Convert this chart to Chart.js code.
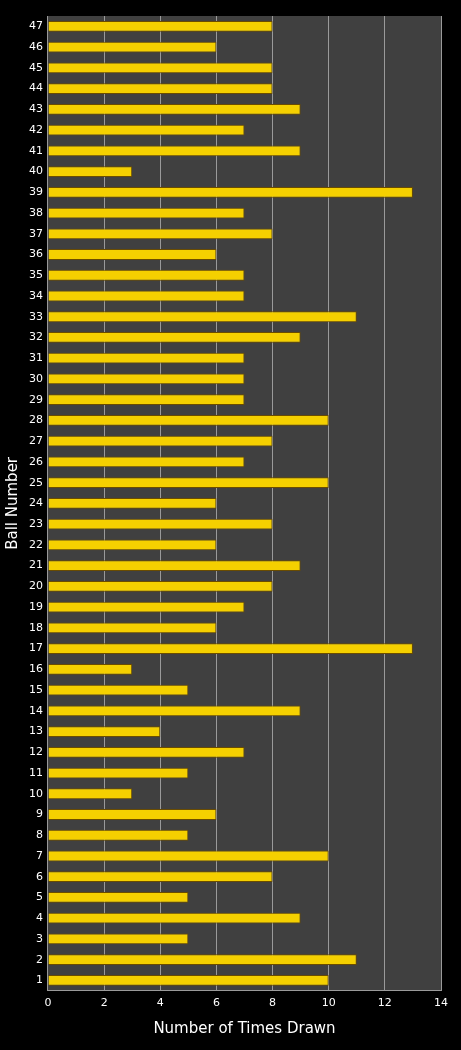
<!DOCTYPE html><html><head><style>html,body{margin:0;background:#000}#w{width:461px;height:1050px}</style>
<script src="https://cdn.jsdelivr.net/npm/chart.js@4"></script></head><body><div id="w"><canvas id="c"></canvas></div><script>
const balls=[];for(let i=47;i>=1;i--)balls.push(String(i));
const counts=[8,6,8,8,9,7,9,3,13,7,8,6,7,7,11,9,7,7,7,10,8,7,10,6,8,6,9,8,7,6,13,3,5,9,4,7,5,3,6,5,10,8,5,9,5,11,10];
function grad(ctx){const el=ctx.element;const c=ctx.chart.ctx;
 if(!el||el.y===undefined||isNaN(el.y))return '#f5d000';
 const h=el.height||10;const g=c.createLinearGradient(0,el.y-h/2,0,el.y+h/2);
 g.addColorStop(0,'#8a6a00');g.addColorStop(0.25,'#ffe600');g.addColorStop(0.45,'#fff7a0');g.addColorStop(0.7,'#f0c800');g.addColorStop(1,'#7a5800');return g;}
const bg={id:'bg',beforeDraw(ch){const a=ch.chartArea,c=ch.ctx;c.save();c.fillStyle='#000';c.fillRect(0,0,ch.width,ch.height);c.fillStyle='#404040';c.fillRect(a.left,a.top,a.right-a.left,a.bottom-a.top);c.restore();}};
new Chart(document.getElementById('c'),{type:'bar',data:{labels:balls,datasets:[{data:counts,backgroundColor:grad,borderColor:'#6a4c00',borderWidth:1,categoryPercentage:1,barPercentage:0.52}]},
options:{indexAxis:'y',responsive:true,maintainAspectRatio:false,animation:false,
layout:{padding:{top:16,right:20,left:0,bottom:8}},
plugins:{legend:{display:false},tooltip:{enabled:false}},
scales:{x:{min:0,max:14,ticks:{stepSize:2,color:'#fff',font:{family:'DejaVu Sans',size:11},padding:6},grid:{color:'#9a9a9a',drawTicks:false,lineWidth:1},border:{color:'#9a9a9a'},
title:{display:true,text:'Number of Times Drawn',color:'#fff',font:{family:'DejaVu Sans',size:15},padding:{top:4}}},
y:{ticks:{color:'#fff',font:{family:'DejaVu Sans',size:11},autoSkip:false,padding:5},grid:{display:false,drawTicks:false},border:{color:'#9a9a9a'},
title:{display:true,text:'Ball Number',color:'#fff',font:{family:'DejaVu Sans',size:15},padding:{bottom:2}}}}},plugins:[bg]});
</script></body></html>
